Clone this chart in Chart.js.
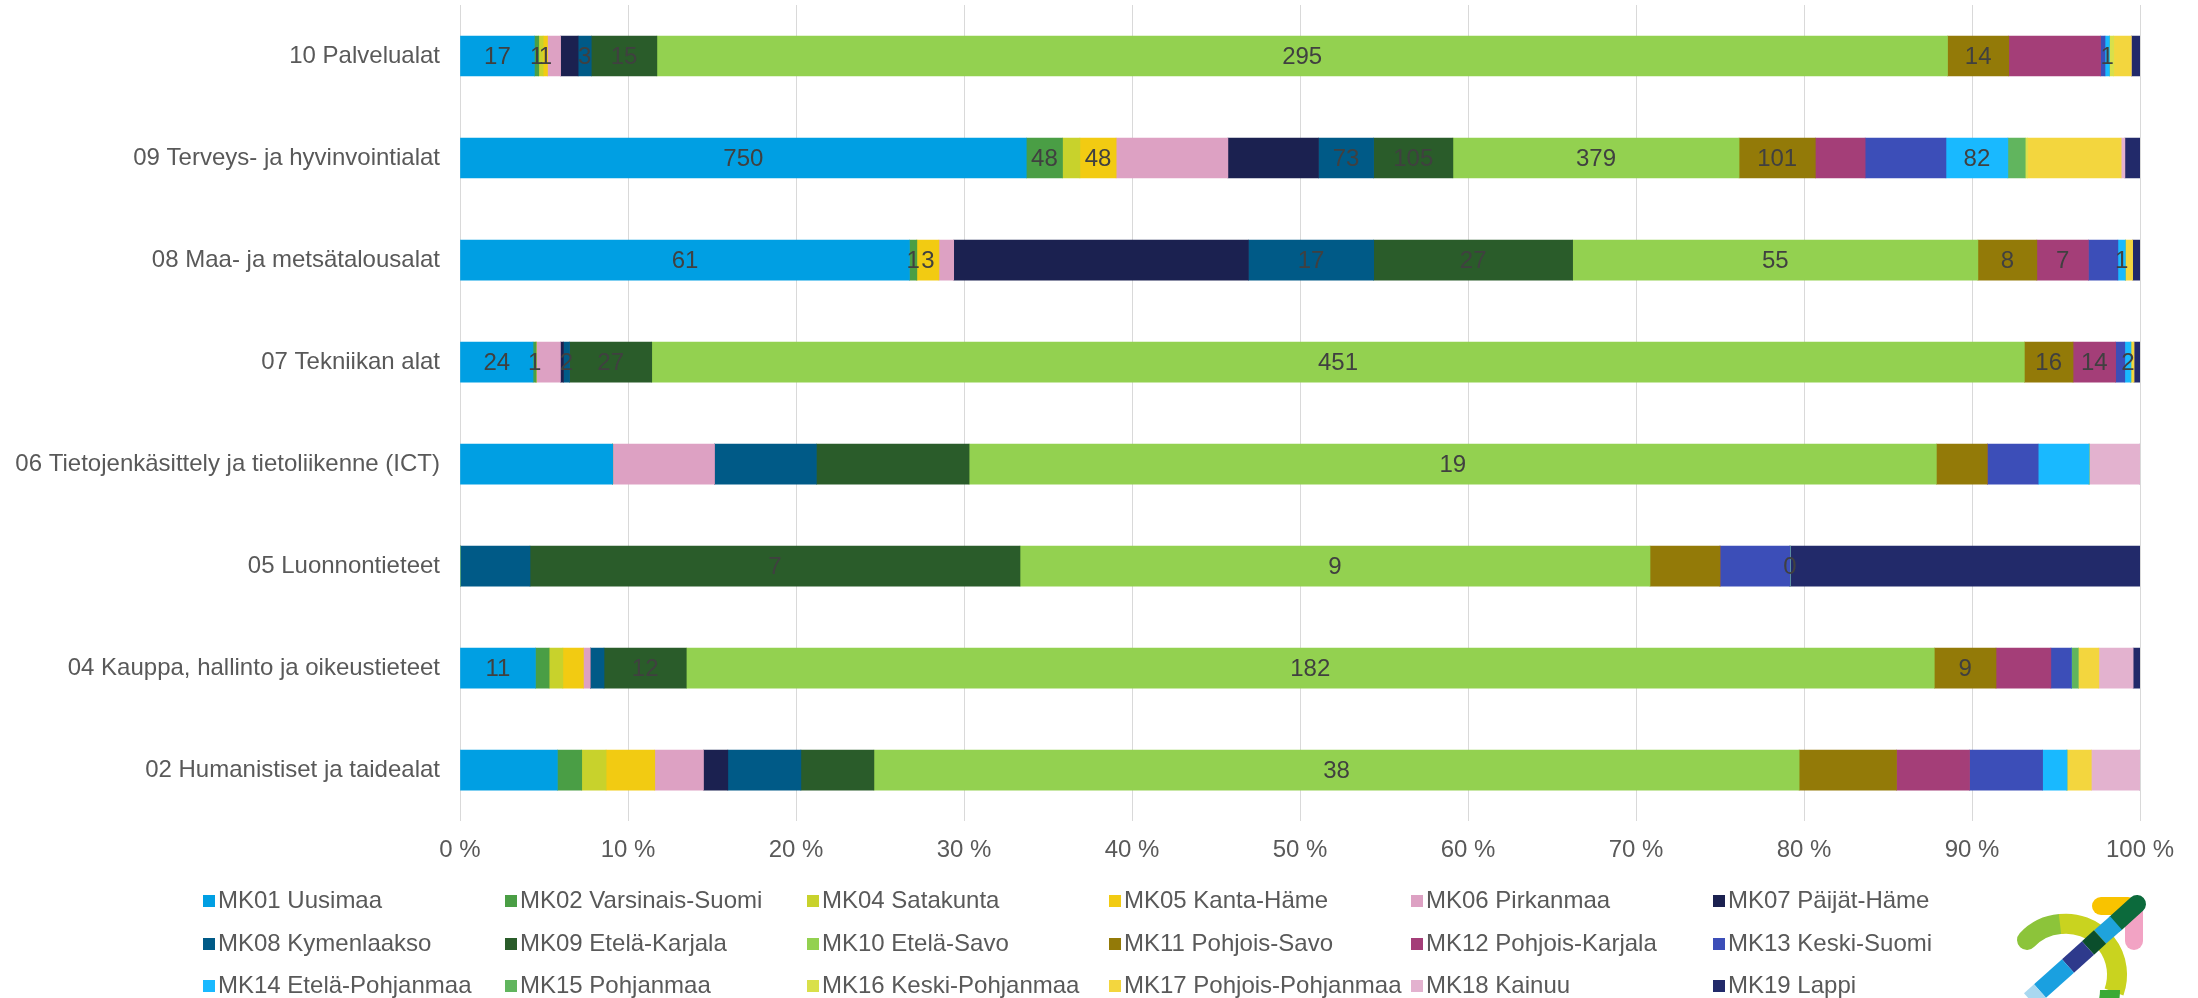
<!DOCTYPE html>
<html lang="fi">
<head>
<meta charset="utf-8">
<title>Koulutusalat maakunnittain</title>
<script src="https://cdn.jsdelivr.net/npm/chart.js@4.4.1/dist/chart.umd.min.js"></script>
<style>
  html, body { margin: 0; padding: 0; background: #fff; }
  #wrap { position: relative; width: 2198px; height: 998px; overflow: hidden; font-family: "Liberation Sans", Arial, sans-serif; }
  #box { position: absolute; left: 0; top: 0; width: 2198px; height: 998px; }
  .item { position: absolute; font-size: 24px; line-height: 28px; color: #595959; white-space: nowrap; }
  .item i { display: inline-block; width: 12px; height: 12px; margin-right: 3px; vertical-align: 1px; }
  #logo { position: absolute; left: 1990px; top: 880px; }
</style>
</head>
<body>
<div id="wrap">
  <div id="box"><canvas id="myChart"></canvas></div>
  <div id="legend"></div>
  <svg id="logo" width="208" height="118" viewBox="1990 880 208 118">
    <path d="M2027 940 A51 51 0 0 1 2060 924" stroke="#8cc43a" stroke-width="20" fill="none" stroke-linecap="round"/>
    <path d="M2060 924 A51 51 0 0 1 2114 992" stroke="#c9d31f" stroke-width="20" fill="none"/>
    <path d="M2110 990 A51 51 0 0 1 2106 1010" stroke="#3aaa35" stroke-width="20" fill="none"/>
    <line x1="2134" y1="912" x2="2134" y2="941" stroke="#f2a3c4" stroke-width="18" stroke-linecap="round"/>
    <line x1="2101" y1="906" x2="2128" y2="906" stroke="#f9c300" stroke-width="18" stroke-linecap="round"/>
    <line x1="2137" y1="904" x2="2116" y2="923" stroke="#0c6a3c" stroke-width="18" stroke-linecap="round"/>
    <line x1="2116" y1="923" x2="2100" y2="937" stroke="#1fa3dc" stroke-width="18"/>
    <line x1="2100" y1="937" x2="2088" y2="948" stroke="#0b4e2c" stroke-width="18"/>
    <line x1="2088" y1="948" x2="2068" y2="966" stroke="#2e3a8c" stroke-width="18"/>
    <line x1="2068" y1="966" x2="2040" y2="991" stroke="#1aa0e0" stroke-width="18"/>
    <line x1="2040" y1="991" x2="2030" y2="1000" stroke="#a9d8f0" stroke-width="18"/>
  </svg>
</div>
<script>
// koulutusalat, ylhäältä alas
const categories = [
  '10 Palvelualat',
  '09 Terveys- ja hyvinvointialat',
  '08 Maa- ja metsätalousalat',
  '07 Tekniikan alat',
  '06 Tietojenkäsittely ja tietoliikenne (ICT)',
  '05 Luonnontieteet',
  '04 Kauppa, hallinto ja oikeustieteet',
  '02 Humanistiset ja taidealat'
];

const regions = [
  'MK01 Uusimaa', 'MK02 Varsinais-Suomi', 'MK04 Satakunta', 'MK05 Kanta-Häme',
  'MK06 Pirkanmaa', 'MK07 Päijät-Häme', 'MK08 Kymenlaakso', 'MK09 Etelä-Karjala',
  'MK10 Etelä-Savo', 'MK11 Pohjois-Savo', 'MK12 Pohjois-Karjala', 'MK13 Keski-Suomi',
  'MK14 Etelä-Pohjanmaa', 'MK15 Pohjanmaa', 'MK16 Keski-Pohjanmaa', 'MK17 Pohjois-Pohjanmaa',
  'MK18 Kainuu', 'MK19 Lappi'
];

const regionColors = [
  '#009fe3', '#4a9e45', '#c8d22c', '#f2cb12', '#dda1c3', '#1b2150',
  '#005a87', '#2a5c2a', '#93d150', '#937a08', '#a43e78', '#3c4eb8',
  '#19b9ff', '#61b55e', '#d9e04a', '#f3d63e', '#e3b2cf', '#222a6a'
];

// arvot maakunnittain (sama järjestys kuin regions)
const palvelualat   = [17, 1, 1, 1, 3, 4, 3, 15, 295, 14, 21, 1, 1, 0, 1, 4, 0, 2];
const terveys       = [750, 48, 23, 48, 148, 120, 73, 105, 379, 101, 66, 107, 82, 23, 3, 124, 5, 20];
const maaMetsa      = [61, 1, 0, 3, 2, 40, 17, 27, 55, 8, 7, 4, 1, 0, 0, 1, 0, 1];
const tekniikka     = [24, 1, 0, 0, 8, 1, 2, 27, 451, 16, 14, 3, 2, 0, 0, 1, 0, 2];
const ict           = [3, 0, 0, 0, 2, 0, 2, 3, 19, 1, 0, 1, 1, 0, 0, 0, 1, 0];
const luonnontiet   = [0, 0, 0, 0, 0, 0, 1, 7, 9, 1, 0, 1, 0, 0, 0, 0, 0, 5];
const kauppa        = [11, 2, 2, 3, 1, 0, 2, 12, 182, 9, 8, 3, 0, 1, 0, 3, 5, 1];
const humanistiset  = [4, 1, 1, 2, 2, 1, 3, 3, 38, 4, 3, 3, 1, 0, 0, 1, 2, 0];

const rows = [palvelualat, terveys, maaMetsa, tekniikka, ict, luonnontiet, kauppa, humanistiset];

// mille maakunnille arvo näytetään palkissa (indeksit regions-taulukkoon)
const labelled = [
  [0, 1, 3, 6, 7, 8, 9, 12],
  [0, 1, 3, 6, 7, 8, 9, 12],
  [0, 1, 3, 6, 7, 8, 9, 10, 12],
  [0, 1, 6, 7, 8, 9, 10, 12],
  [8],
  [7, 8, 12],
  [0, 7, 8, 9],
  [8]
];

const percentTicks = [0, 10, 20, 30, 40, 50, 60, 70, 80, 90, 100];

var totals = rows.map(function (r) {
  return r.reduce(function (a, b) { return a + b; }, 0);
});

var datasets = regions.map(function (name, i) {
  return {
    label: name,
    data: rows.map(function (r, j) { return r[i] / totals[j] * 100; }),
    backgroundColor: regionColors[i],
    borderWidth: 0,
    barThickness: 40
  };
});

// arvot palkkien keskelle
var valueLabels = {
  id: 'valueLabels',
  afterDatasetsDraw: function (chart) {
    var ctx = chart.ctx;
    ctx.save();
    ctx.font = '24px "Liberation Sans", Arial, sans-serif';
    ctx.fillStyle = '#404040';
    ctx.textAlign = 'center';
    ctx.textBaseline = 'middle';
    chart.data.datasets.forEach(function (ds, i) {
      chart.getDatasetMeta(i).data.forEach(function (bar, j) {
        if (labelled[j].indexOf(i) < 0) return;
        var p = bar.getCenterPoint();
        ctx.fillText(String(rows[j][i]), p.x, p.y + 1);
      });
    });
    ctx.restore();
  }
};

Chart.defaults.font.family = '"Liberation Sans", Arial, sans-serif';
Chart.defaults.font.size = 24;
Chart.defaults.color = '#595959';

var ctx = document.getElementById('myChart').getContext('2d');
var myChart = new Chart(ctx, {
  type: 'bar',
  data: { labels: categories, datasets: datasets },
  options: {
    indexAxis: 'y',
    responsive: true,
    maintainAspectRatio: false,
    animation: false,
    layout: { padding: { top: 5, right: 58, bottom: 118, left: 0 } },
    scales: {
      x: {
        stacked: true,
        min: 0,
        max: 100,
        afterBuildTicks: function (scale) {
          scale.ticks = percentTicks.map(function (v) { return { value: v }; });
        },
        grid: { color: '#d9d9d9', lineWidth: 1, drawTicks: false },
        border: { display: false },
        ticks: {
          padding: 15,
          color: '#595959',
          callback: function (v) { return v + ' %'; }
        }
      },
      y: {
        stacked: true,
        grid: { display: false, drawTicks: false },
        border: { display: false },
        afterFit: function (scale) {
          scale.width = 460;
          scale.paddingTop = 0;
          scale.paddingBottom = 0;
        },
        ticks: { padding: 20, color: '#595959' }
      }
    },
    plugins: {
      legend: { display: false },
      tooltip: { enabled: false }
    }
  },
  plugins: [valueLabels]
});

// selite kolmeen riviin, kuusi saraketta
var legend = document.getElementById('legend');
var rowY = [900, 943, 985];
regions.forEach(function (name, i) {
  var col = i % 6;
  var row = Math.floor(i / 6);
  var el = document.createElement('div');
  el.className = 'item';
  el.style.left = (203 + col * 302) + 'px';
  el.style.top = (rowY[row] - 14) + 'px';
  el.innerHTML = '<i style="background:' + regionColors[i] + '"></i>' + name;
  legend.appendChild(el);
});
</script>
</body>
</html>
